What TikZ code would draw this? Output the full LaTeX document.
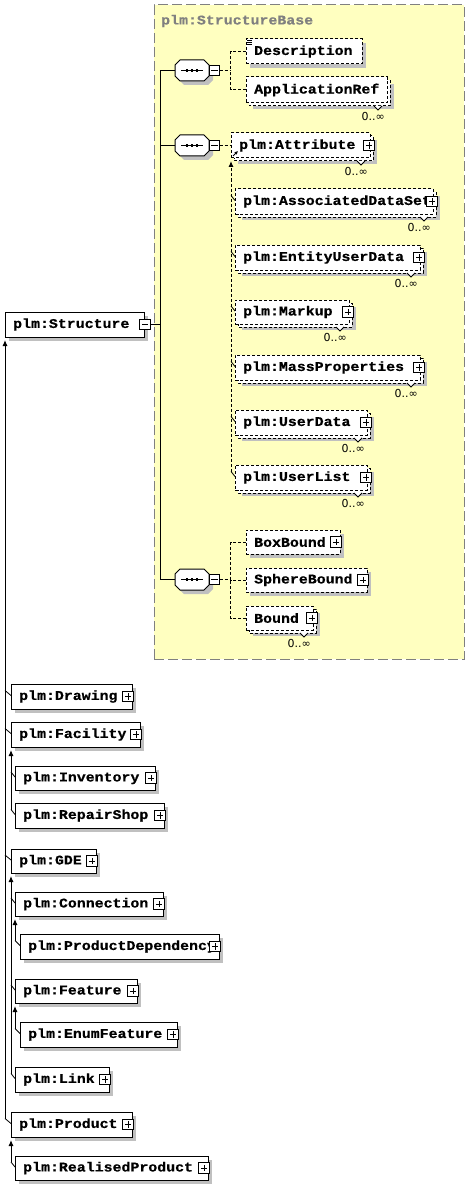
\documentclass[tikz,border=0pt]{standalone}
\usepackage{fontspec}
\usetikzlibrary{arrows.meta,calc,fit}
\newfontfamily\efont{Liberation Mono}[FakeStretch=1.12,FakeBold=0.6]
\newfontfamily\lfont{DejaVu Sans}
\definecolor{yel}{HTML}{FFFFC0}
\definecolor{shd}{HTML}{C0C0C0}
\definecolor{ttl}{HTML}{808080}
\tikzset{
  ebox/.style={draw=black, fill=white, line width=1pt, inner sep=0pt, outer sep=0pt},
  opt/.style={dash pattern=on 3pt off 2pt},
  etext/.style={font=\efont\bfseries\fontsize{13.3}{14}\selectfont, inner sep=0pt, text=black},
  mult/.style={font=\lfont\fontsize{11}{12}\selectfont, inner sep=0pt},
  pmbox/.style={draw=black, fill=white, line width=0.9pt, minimum width=10.5pt, minimum height=10.5pt, inner sep=0pt, outer sep=0pt},
  pbox/.style={pmbox, path picture={
     \draw[line width=0.9pt] ([xshift=2pt]path picture bounding box.west) -- ([xshift=-2pt]path picture bounding box.east);
     \draw[line width=0.9pt] ([yshift=-2pt]path picture bounding box.north) -- ([yshift=2pt]path picture bounding box.south);}},
  mbox/.style={pmbox, path picture={
     \draw[line width=0.9pt] ([xshift=2pt]path picture bounding box.west) -- ([xshift=-2pt]path picture bounding box.east);}},
  conn/.style={line width=1pt},
  dconn/.style={line width=1pt, opt},
  tickline/.style={line width=0.8pt},
  uparr/.style={-{Latex[length=6pt,width=5pt]}},
}
% element core: name x1 y1 x2 y2 text style
\newcommand{\elcore}[7]{%
  \node[ebox,#7,fit={(#2,#3) (#4,#5)}] (#1) {};
  \node[etext,anchor=west] (#1t) at ([xshift=8pt]#1.west) {#6};
}
\newcommand{\sel}[7]{%
  \fill[shd] (#2+4,#3+4) rectangle (#4+4,#5+4);
  \elcore{#1}{#2}{#3}{#4}{#5}{#6}{#7}
}
\newcommand{\mel}[7]{%
  \fill[shd] (#2+7,#3+7) rectangle (#4+7,#5+6);
  \draw[ebox,#7] (#2+3,#3+3) rectangle (#4+3,#5+3);
  \elcore{#1}{#2}{#3}{#4}{#5}{#6}{#7}
  \draw[line width=0.8pt, fill=white] (#4-13,#5+3) -- (#4-9,#5+7) -- (#4-5,#5+3);
  \node[mult,anchor=east] (#1m) at (#4-2,#5+13) {0..∞};
}
\newcommand{\splus}[1]{\node[pbox] (#1p) at ($(#1.east)+(-4,0)$) {};}
\newcommand{\mplus}[1]{\node[pbox] (#1p) at ($(#1.east)+(-1,0)$) {};}
\newcommand{\oct}[3]{\path[#3] (#1+5,#2) -- (#1+29,#2) -- (#1+34,#2+5) -- (#1+34,#2+16) -- (#1+29,#2+21) -- (#1+5,#2+21) -- (#1,#2+16) -- (#1,#2+5) -- cycle;}
\newcommand{\seqnode}[3]{%
  \oct{#2+4}{#3+4}{fill=shd}
  \oct{#2}{#3}{draw=black,fill=white,line width=1pt}
  \node[fit={(#2,#3) (#2+34,#3+21)}, inner sep=0pt, outer sep=0pt] (#1) {};
  \draw[line width=1pt] (#2+6,#3+10.5) -- (#2+28,#3+10.5);
  \fill (#2+11,#3+9) rectangle ++(2,3);
  \fill (#2+16,#3+9) rectangle ++(2,3);
  \fill (#2+21,#3+9) rectangle ++(2,3);
  \node[mbox, anchor=west] (#1m) at (#1.east) {};
}
\newcommand{\tk}[2]{\draw[tickline] ($(#1.west)+(-#2,-6)$) -- ($(#1.west)+(0,-1)$);}
\begin{document}
\begin{tikzpicture}[x=1pt,y=-1pt]
\useasboundingbox (0,0) rectangle (470,1193);
% base type region
\node[fit={(154,5) (464,659)}, inner sep=0pt, outer sep=0pt, fill=yel, draw=ttl, line width=1pt, dash pattern=on 10pt off 4pt] (base) {};
\node[etext, text=ttl, anchor=west] (title) at (161,21) {plm:StructureBase};

% compositors
\seqnode{seqa}{175}{60}
\seqnode{seqb}{175}{135}
\seqnode{seqc}{175}{569}

% top elements
\sel{str}{5}{312}{144}{337}{plm:Structure}{}
\node[mbox] (strm) at ($(str.east)+(1,0)$) {};
\sel{desc}{246}{39}{362}{64}{Description}{opt}
\draw[line width=0.6pt] (247,40.5) -- (252,40.5) (247,42.5) -- (252,42.5) (247,44.5) -- (252,44.5);
\mel{app}{246}{77}{387}{103}{ApplicationRef}{opt}
\mel{attr}{231}{133}{370}{158}{plm:Attribute}{opt}\mplus{attr}
\mel{ads}{235}{189}{433}{214}{plm:AssociatedDataSet}{opt}\mplus{ads}
\mel{eud}{235}{245}{420}{270}{plm:EntityUserData}{opt}\mplus{eud}
\mel{mkp}{235}{300}{349}{324}{plm:Markup}{opt}\mplus{mkp}
\mel{mass}{235}{355}{420}{380}{plm:MassProperties}{opt}\mplus{mass}
\mel{udata}{235}{410}{367}{435}{plm:UserData}{opt}\mplus{udata}
\mel{ulist}{235}{465}{367}{490}{plm:UserList}{opt}\mplus{ulist}
\sel{boxb}{246}{530}{340}{554}{BoxBound}{opt}\splus{boxb}
\sel{sphb}{246}{568}{367}{592}{SphereBound}{opt}\splus{sphb}
\mel{bnd}{246}{606}{313}{630}{Bound}{opt}\mplus{bnd}

% derived types
\sel{drw}{11}{684}{132}{709}{plm:Drawing}{}\splus{drw}
\sel{fac}{11}{722}{140}{747}{plm:Facility}{}\splus{fac}
\sel{inv}{15}{766}{155}{790}{plm:Inventory}{}\splus{inv}
\sel{rep}{15}{803}{164}{828}{plm:RepairShop}{}\splus{rep}
\sel{gde}{11}{849}{96}{873}{plm:GDE}{}\splus{gde}
\sel{con}{15}{892}{163}{916}{plm:Connection}{}\splus{con}
\sel{pdep}{20}{934}{219}{959}{plm:ProductDependency}{}\splus{pdep}
\sel{feat}{15}{979}{137}{1003}{plm:Feature}{}\splus{feat}
\sel{enf}{20}{1022}{177}{1047}{plm:EnumFeature}{}\splus{enf}
\sel{lnk}{15}{1067}{109}{1092}{plm:Link}{}\splus{lnk}
\sel{prod}{11}{1112}{132}{1137}{plm:Product}{}\splus{prod}
\sel{rprod}{15}{1156}{208}{1180}{plm:RealisedProduct}{}\splus{rprod}

% trunk from Structure to compositors
\coordinate (trk) at ($(strm.east)+(10,0)$);
\draw[conn] (strm.east) -- (trk);
\draw[conn] (seqa.west) -| (trk);
\draw[conn] (seqc.west) -| (trk);
\draw[conn] (seqb.west) -- ($(seqb.west)+(-15,0)$);

% sequence 1
\coordinate (ba) at ($(seqam.east)+(11,0)$);
\draw[dconn] (seqam.east) -- (ba);
\draw[dconn] (desc.west) -| (ba);
\draw[dconn] (app.west) -| (ba);
% sequence 2 and substitution group
\draw[dconn] (seqbm.east) -- (attr.west);
\draw[dconn,uparr] ($(ulist.west)+(-4,-6)$) -- ($(attr.south west)+(0,3)$);
\foreach \m in {ads,eud,mkp,mass,udata,ulist} {\tk{\m}{4}}
\draw[line width=0.9pt,-{Latex[length=3.5pt,width=3.5pt]}] ($(attr.south west)+(2,-2)$) -- ($(attr.south west)+(7,-7)$);
% sequence 3
\coordinate (bc) at ($(seqcm.east)+(11,0)$);
\draw[dconn] (seqcm.east) -- (bc);
\draw[dconn] (boxb.west) -| (bc);
\draw[dconn] (sphb.west) -| (bc);
\draw[dconn] (bnd.west) -| (bc);

% derivation tree
\draw[conn,uparr] ($(prod.west)+(-6,-6)$) -- ($(str.south west)+(0,3)$);
\foreach \m in {drw,fac,gde,prod} {\tk{\m}{6}}
\draw[conn,uparr] ($(rep.west)+(-4,-6)$) -- ($(fac.south west)+(0,3)$);
\foreach \m in {inv,rep} {\tk{\m}{4}}
\draw[conn,uparr] ($(lnk.west)+(-4,-6)$) -- ($(gde.south west)+(0,3)$);
\foreach \m in {con,feat,lnk} {\tk{\m}{4}}
\draw[conn,uparr] ($(pdep.west)+(-5,-6)$) -- ($(con.south west)+(0,3)$);
\tk{pdep}{5}
\draw[conn,uparr] ($(enf.west)+(-5,-6)$) -- ($(feat.south west)+(0,3)$);
\tk{enf}{5}
\draw[conn,uparr] ($(rprod.west)+(-4,-6)$) -- ($(prod.south west)+(0,3)$);
\tk{rprod}{4}
\end{tikzpicture}
\end{document}
